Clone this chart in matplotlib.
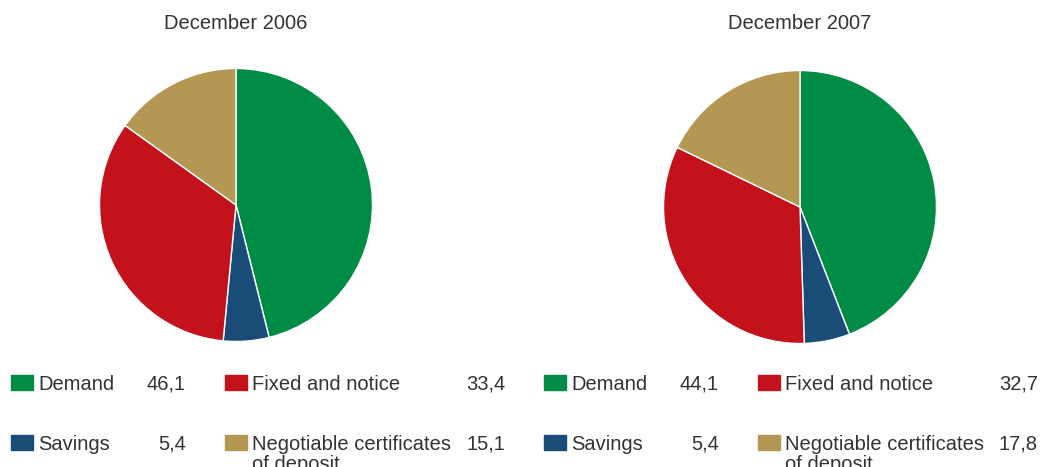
import matplotlib
matplotlib.use("Agg")
import matplotlib.pyplot as plt
from matplotlib.patches import Rectangle

W, H = 1048, 467
plt.rcParams['font.family'] = ['Liberation Sans', 'DejaVu Sans']

# deposit structure, %
categories = ["Demand", "Savings", "Fixed and notice", "Negotiable certificates\nof deposit"]
dec2006 = [46.1, 5.4, 33.4, 15.1]
dec2007 = [44.1, 5.4, 32.7, 17.8]
titles = ["December 2006", "December 2007"]
colors = ["#008C45", "#1A4C78", "#C3121C", "#B59754"]
TXT = "#333333"


def fx(x):
    return x / W


def fy(y):
    # y measured from the top in pixels
    return 1 - y / H


fig = plt.figure(figsize=(W / 100, H / 100), dpi=100)

panels = [(dec2006, 236, 205, 0), (dec2007, 800, 207, 533)]
for (vals, cx, cy, off), title in zip(panels, titles):
    r = 136.5
    ax = fig.add_axes([fx(cx - r), fy(cy + r), (2 * r) / W, (2 * r) / H])
    ax.pie(vals, colors=colors, startangle=90, counterclock=False, radius=1,
           wedgeprops=dict(edgecolor="white", linewidth=1.0))
    ax.set_xlim(-1, 1); ax.set_ylim(-1, 1); ax.set_aspect("equal")
    ax.axis("off")
    fig.text(fx(cx), fy(29), title, ha="center", va="baseline", fontsize=14.5, color=TXT)

    # legend: 2x2 grid, row1 Demand/Fixed, row2 Savings/Negotiable
    grid = [(0, 0, 390), (2, 1, 390), (1, 0, 450), (3, 1, 450)]
    for idx, col, base in grid:
        sq_x = off + (11 if col == 0 else 225)
        sq_w = 22
        fig.patches.append(Rectangle((fx(sq_x), fy(base)), sq_w / W, 15 / H,
                                     transform=fig.transFigure, color=colors[idx]))
        tx = sq_x + 27
        lines = categories[idx].split("\n")
        for k, line in enumerate(lines):
            fig.text(fx(tx), fy(base + 20 * k), line, ha="left", va="baseline",
                     fontsize=14.5, color=TXT)
        vx = off + (186 if col == 0 else 505)
        vals_ = vals
        fig.text(fx(vx), fy(base), f"{vals_[idx]:.1f}".replace(".", ","), ha="right",
                 va="baseline", fontsize=14.5, color=TXT)

fig.savefig("out.png", dpi=100)
